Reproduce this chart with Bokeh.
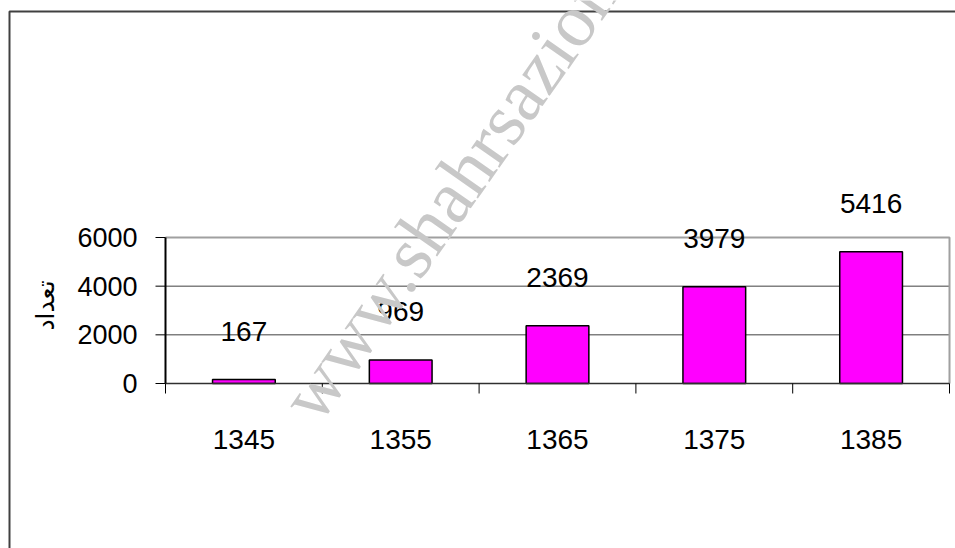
from bokeh.plotting import figure
from bokeh.models import ColumnDataSource, Range1d
from bokeh.core.properties import value
from bokeh.embed import file_html
from bokeh.resources import INLINE
import math

# ---- data ----
years = ["1345", "1355", "1365", "1375", "1385"]
counts = [167, 969, 2369, 3979, 5416]
y_ticks = [0, 2000, 4000, 6000]
y_title = "تعداد"
watermark = "www.shahrsazionline.com"

# ---- layout (pixels on the canvas) ----
W, H = 955, 548
PA_L, PA_R, PA_T, PA_B = 165, 949, 237, 383     # plot area box

n = len(years)
y_lo, y_hi = y_ticks[0], y_ticks[-1]
xu = n / (PA_R - PA_L)              # data units per pixel (x)
yu = (y_hi - y_lo) / (PA_B - PA_T)  # data units per pixel (y)


def px(x, y):
    """canvas pixel -> data coordinates (for decorations only)"""
    return (x - PA_L) * xu, y_lo + (PA_B - y) * yu


centers = [i + 0.5 for i in range(n)]
bounds = list(range(n + 1))

src = ColumnDataSource(dict(x=centers, count=counts, label=[str(c) for c in counts]))

p = figure(width=W, height=H,
           x_range=Range1d(-PA_L * xu, n + (W - PA_R) * xu),
           y_range=Range1d(y_lo - (H - PA_B) * yu, y_hi + PA_T * yu),
           x_axis_location=None, y_axis_location=None,
           output_backend="svg", toolbar_location=None,
           min_border=0)
p.outline_line_color = None
p.xgrid.visible = False
p.ygrid.visible = False
p.background_fill_color = "white"
p.border_fill_color = "white"

NUM_FONT = value("Liberation Sans")

# outer chart frame (left and top edges)
fx0, fy0 = px(9, 11)
fx1, fy1 = px(W + 5, H + 5)
p.line(x=[fx0, fx0, fx1], y=[fy1, fy0, fy0], line_color="#404040", line_width=2)

# gridlines
mid_ticks = y_ticks[1:-1]
p.segment(x0=[bounds[0]] * len(mid_ticks), x1=[bounds[-1]] * len(mid_ticks),
          y0=mid_ticks, y1=mid_ticks, line_color="#404040", line_width=1)

# plot-area border (top and right)
p.line(x=[bounds[0], bounds[-1], bounds[-1]], y=[y_hi, y_hi, y_lo],
       line_color="#a0a0a0", line_width=2)

# bars
p.vbar(x="x", top="count", width=0.4, source=src,
       fill_color="#FF00FF", line_color="black", line_width=1.5)

# x axis line and ticks (ticks at category boundaries)
p.line(x=[bounds[0], bounds[-1]], y=[y_lo, y_lo], line_color="#303030", line_width=1.5)
p.ray(x=bounds, y=[y_lo] * len(bounds), length=10, length_units="screen",
      angle=-math.pi / 2, line_color="black", line_width=1)

# y axis line and ticks
p.line(x=[bounds[0], bounds[0]], y=[y_lo, y_hi], line_color="black", line_width=2)
p.ray(x=[bounds[0]] * len(y_ticks), y=y_ticks, length=10, length_units="screen",
      angle=math.pi, line_color="black", line_width=1)

# x tick labels
p.text(x=centers, y=[y_lo] * n, text=years, x_offset=0, y_offset=56,
       text_align="center", text_baseline="middle",
       text_font=NUM_FONT, text_font_size="28px", text_color="black")

# y tick labels
p.text(x=[bounds[0]] * len(y_ticks), y=y_ticks, text=[str(t) for t in y_ticks],
       x_offset=-28, y_offset=0,
       text_align="right", text_baseline="middle",
       text_font=NUM_FONT, text_font_size="27px", text_color="black")

# y axis title
p.text(x=[bounds[0]], y=[(y_lo + y_hi) / 2], text=[y_title],
       x_offset=-120, y_offset=-5, angle=math.pi / 2,
       text_align="center", text_baseline="middle",
       text_font=value("DejaVu Sans"), text_font_size="25px", text_color="black")

# data labels
p.text(x="x", y="count", text="label", source=src, y_offset=-48,
       text_align="center", text_baseline="middle",
       text_font=NUM_FONT, text_font_size="28px", text_color="black")

# watermark
wx, wy = px(297, 411)
p.text(x=[wx], y=[wy], text=[watermark], angle=math.radians(55),
       text_align="left", text_baseline="middle",
       text_font=value("Liberation Serif"), text_font_size="75px", text_color="#c8c8c8")

open("out.html", "w").write(file_html(p, INLINE))
